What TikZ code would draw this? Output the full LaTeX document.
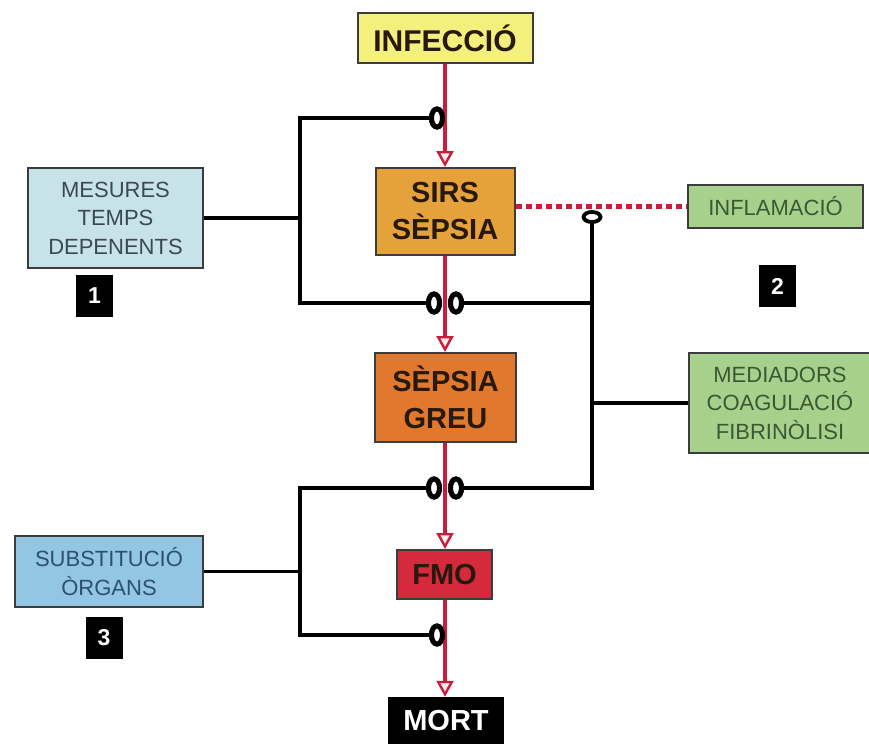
\documentclass[tikz,border=0pt]{standalone}
\usepackage{fontspec}
\setmainfont{Liberation Sans}
\usetikzlibrary{arrows.meta,shapes.geometric}
\definecolor{redl}{RGB}{200,30,60}
\definecolor{bordc}{RGB}{60,60,60}
\definecolor{yel}{RGB}{245,240,125}
\definecolor{orA}{RGB}{230,162,58}
\definecolor{orB}{RGB}{224,120,46}
\definecolor{fmoc}{RGB}{212,42,60}
\definecolor{lblue}{RGB}{200,226,234}
\definecolor{mblue}{RGB}{146,198,226}
\definecolor{lgreen}{RGB}{166,208,140}
\definecolor{tgray}{RGB}{58,72,82}
\definecolor{tgreen}{RGB}{60,88,50}
\definecolor{tblue}{RGB}{45,79,112}
\definecolor{tdark}{RGB}{40,25,15}
\begin{document}
\begin{tikzpicture}[x=1pt,y=-1pt,
  box/.style={draw=bordc, line width=2pt, inner sep=0pt, align=center},
  bigtxt/.style={font=\fontsize{29}{37}\selectfont\bfseries, text=tdark},
  smalltxt/.style={font=\fontsize{22}{28.5}\selectfont},
  redarrow/.style={draw=redl, line width=3.8pt, -{Triangle[open,length=16pt,width=17pt,line width=2.4pt,fill=red!8]}},
  blk/.style={draw=black, line width=3.2pt},
  numbox/.style={fill=black, text=white, minimum width=37pt, minimum height=42pt, inner sep=0pt, font=\fontsize{23}{26}\selectfont\bfseries},
  endv/.style={ellipse, draw=black, fill=white, line width=5pt, minimum width=11pt, minimum height=18pt, inner sep=0pt},
  endh/.style={ellipse, draw=black, fill=white, line width=3.8pt, minimum width=17pt, minimum height=10pt, inner sep=0pt}]
\useasboundingbox (0,0) rectangle (869,744);

% main chain
\node[box, fill=yel, minimum width=175pt, minimum height=50pt, font=\fontsize{30}{36}\selectfont\bfseries, text=tdark] (inf) at (445,38) {INFECCIÓ};
\node[box, bigtxt, fill=orA, minimum width=139pt, minimum height=87pt] (sirs) at (445,211.5) {SIRS\\SÈPSIA};
\node[box, bigtxt, fill=orB, minimum width=141pt, minimum height=89pt] (greu) at (445.5,397.5) {SÈPSIA\\GREU};
\node[box, bigtxt, fill=fmoc, minimum width=95pt, minimum height=49pt] (fmo) at (444.5,574.5) {FMO};
\node[fill=black, text=white, inner sep=0pt, minimum width=116pt, minimum height=47pt, font=\fontsize{29}{36}\selectfont\bfseries] (mort) at (446,720.5) {MORT};

% side boxes
\node[box, smalltxt, fill=lblue, text=tgray, minimum width=175pt, minimum height=100pt] (mes) at (115.5,218) {MESURES\\TEMPS\\DEPENENTS};
\node[box, smalltxt, fill=lgreen, text=tgreen, minimum width=175pt, minimum height=43pt] (infl) at (775.5,206.5) {INFLAMACIÓ};
\node[box, smalltxt, fill=lgreen, text=tgreen, minimum width=182pt, minimum height=100pt] (med) at (780,403) {MEDIADORS\\COAGULACIÓ\\FIBRINÒLISI};
\node[box, smalltxt, fill=mblue, text=tblue, minimum width=188pt, minimum height=71pt] (sub) at (109,571.5) {SUBSTITUCIÓ\\ÒRGANS};

% numbers
\node[numbox] (n1) at (94.5,296) {1};
\node[numbox] (n2) at (777.5,286) {2};
\node[numbox] (n3) at (104,637.5) {3};

% connector coordinates
\coordinate (c1) at (300,118);
\coordinate (c2) at (300,303);
\coordinate (c3) at (300,488);
\coordinate (c4) at (300,635);
\coordinate (r0) at (592,217);
\coordinate (r1) at (592,303);
\coordinate (r2) at (592,488);

% end markers (positions)
\node[endv] (t1) at (437,118) {};
\node[endv] (m1) at (434,303) {};
\node[endv] (m2) at (456,303) {};
\node[endv] (m3) at (434,488) {};
\node[endv] (m4) at (456,488) {};
\node[endv] (m5) at (437,635) {};

% black connectors
\draw[blk] (t1.west) -- (c1) -- (c2) -- (m1.west);
\draw[blk] (mes.east) -- (mes.east -| c1);
\draw[blk] (m2.east) -- (r1);
\draw[blk] (r0) -- (r2) -- (m4.east);
\draw[blk] (med.west) -- (med.west -| r0);
\draw[blk] (m3.west) -- (c3) -- (c4) -- (m5.west);
\draw[blk] (sub.east) -- (sub.east -| c3);

% dotted inflammation line
\draw[draw=redl, line width=4.5pt, dash pattern=on 6pt off 4pt] (infl.west -| sirs.east) -- (infl.west);
\node[endh] (h1) at (r0) {};

% red arrows
\draw[redarrow] (inf.south) -- (inf.south |- sirs.north);
\draw[redarrow] (sirs.south) -- (sirs.south |- greu.north);
\draw[redarrow] (sirs.south |- greu.south) -- (sirs.south |- fmo.north);
\draw[redarrow] (sirs.south |- fmo.south) -- (sirs.south |- mort.north);

% redraw markers above
\node[endv] at (t1) {};
\node[endv] at (m1) {};
\node[endv] at (m2) {};
\node[endv] at (m3) {};
\node[endv] at (m4) {};
\node[endv] at (m5) {};
\end{tikzpicture}
\end{document}
